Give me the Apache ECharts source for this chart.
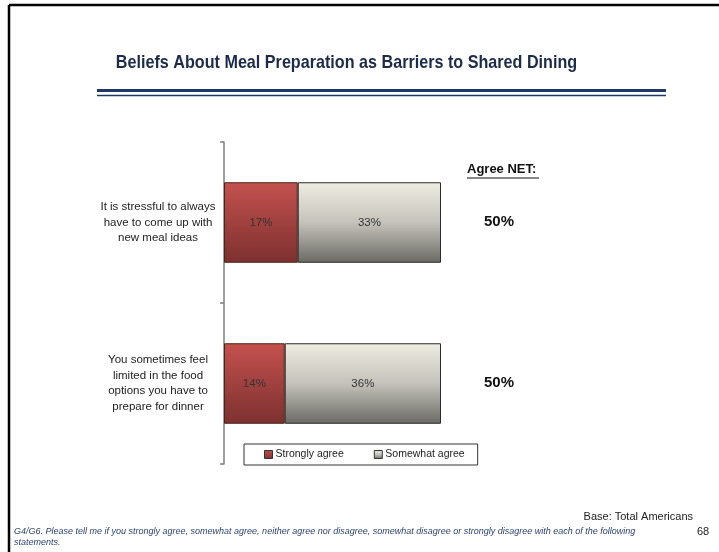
<!DOCTYPE html>
<html>
<head>
<meta charset="utf-8">
<script src="https://cdn.jsdelivr.net/npm/echarts@6/dist/echarts.min.js"></script>
<style>
  html, body { margin: 0; padding: 0; background: #fff; }
  #chart { width: 719px; height: 552px; }
</style>
</head>
<body>
<div id="chart"></div>
<script>
// Statements shown on the category axis (top to bottom)
const statements = [
  'It is stressful to always\nhave to come up with\nnew meal ideas',
  'You sometimes feel\nlimited in the food\noptions you have to\nprepare for dinner'
];
// Share of respondents (%)
const stronglyAgree = [17, 14];
const somewhatAgree = [33, 36];
const seriesNames = ['Strongly agree', 'Somewhat agree'];

const FONT = '"Liberation Sans", Arial, sans-serif';

const chart = echarts.init(document.getElementById('chart'), null, { renderer: 'canvas' });

const redFill = new echarts.graphic.LinearGradient(0, 0, 0, 1, [
  { offset: 0, color: '#C4514E' },
  { offset: 1, color: '#7C3130' }
]);
const greyFill = new echarts.graphic.LinearGradient(0, 0, 0, 1, [
  { offset: 0, color: '#EFEDE2' },
  { offset: 0.5, color: '#C4C2BA' },
  { offset: 1, color: '#6A6A64' }
]);

const pct = v => v + '%';

chart.setOption({
  animation: false,
  textStyle: { fontFamily: FONT },
  grid: { left: 224, right: 61, top: 142, bottom: 88, containLabel: false },
  xAxis: {
    type: 'value', min: 0, max: 100,
    show: false
  },
  yAxis: {
    type: 'category',
    data: statements,
    inverse: true,
    axisLine: { show: true, lineStyle: { color: '#7f7f7f', width: 1.5 } },
    axisTick: { show: true, length: 4, lineStyle: { color: '#7f7f7f', width: 1.5 } },
    axisLabel: {
      align: 'center', margin: 66,
      fontSize: 11.5, lineHeight: 15.5, color: '#222', fontFamily: FONT
    },
    splitLine: { show: false }
  },
  legend: {
    left: 244, top: 444,
    itemWidth: 8, itemHeight: 8, itemGap: 30,
    padding: [5, 13, 5, 20],
    borderColor: '#333', borderWidth: 1,
    textStyle: { fontSize: 10.5, color: '#222', fontFamily: FONT, padding: [0, 0, 0, -2] },
    data: seriesNames.map(n => ({ name: n, icon: 'rect', itemStyle: { borderColor: '#333', borderWidth: 1 } }))
  },
  series: [
    {
      name: seriesNames[0], type: 'bar', stack: 'agree',
      data: stronglyAgree, barWidth: '50%',
      itemStyle: { color: redFill, borderColor: '#4a2414', borderWidth: 1 },
      label: { show: true, position: 'inside', formatter: p => pct(p.value), fontSize: 11.5, color: '#333', fontFamily: FONT }
    },
    {
      name: seriesNames[1], type: 'bar', stack: 'agree',
      data: somewhatAgree, barWidth: '50%',
      itemStyle: { color: greyFill, borderColor: '#2b2b2b', borderWidth: 1 },
      label: { show: true, position: 'inside', formatter: p => pct(p.value), fontSize: 11.5, color: '#333', fontFamily: FONT }
    }
  ]
});

// Net agreement per statement, positioned beside each bar
const netValues = stronglyAgree.map((v, i) => v + somewhatAgree[i]);
const netTexts = netValues.map((v, i) => {
  const y = chart.convertToPixel({ yAxisIndex: 0 }, i);
  return {
    type: 'text', left: 484, top: y - 8,
    style: { text: pct(v), font: 'bold 15px ' + FONT, fill: '#111' }
  };
});

chart.setOption({
  graphic: [
    // page frame
    { type: 'line', shape: { x1: 9, y1: 5, x2: 719, y2: 5 }, style: { stroke: '#000', lineWidth: 2.5 } },
    { type: 'line', shape: { x1: 9, y1: 5, x2: 9, y2: 552 }, style: { stroke: '#000', lineWidth: 2.5 } },
    // title (horizontally condensed) and double rule
    { type: 'text', x: 346.5, y: 53, scaleX: 0.85,
      style: { text: 'Beliefs About Meal Preparation as Barriers to Shared Dining', font: 'bold 19px ' + FONT,
               fill: '#1C2B4A', align: 'center', verticalAlign: 'top' } },
    { type: 'line', shape: { x1: 97, y1: 90.5, x2: 666, y2: 90.5 }, style: { stroke: '#1F3864', lineWidth: 3 } },
    { type: 'line', shape: { x1: 97, y1: 95.5, x2: 666, y2: 95.5 }, style: { stroke: '#1F3864', lineWidth: 1.5 } },
    // net header
    { type: 'text', left: 467, top: 163,
      style: { text: 'Agree NET:', font: 'bold 13px ' + FONT, fill: '#111' } },
    { type: 'line', shape: { x1: 467, y1: 178, x2: 539, y2: 178 }, style: { stroke: '#111', lineWidth: 1 } },
    ...netTexts,
    // footer
    { type: 'text', right: 26, top: 511,
      style: { text: 'Base: Total Americans', font: '11px ' + FONT, fill: '#222' } },
    { type: 'text', left: 14, top: 526,
      style: { text: 'G4/G6. Please tell me if you strongly agree, somewhat agree, neither agree nor disagree, somewhat disagree or strongly disagree with each of the following\nstatements.',
               font: 'italic 9px ' + FONT, fill: '#2E4470', lineHeight: 11 } },
    { type: 'text', left: 697, top: 526,
      style: { text: '68', font: '11px ' + FONT, fill: '#222' } }
  ]
});
</script>
</body>
</html>
